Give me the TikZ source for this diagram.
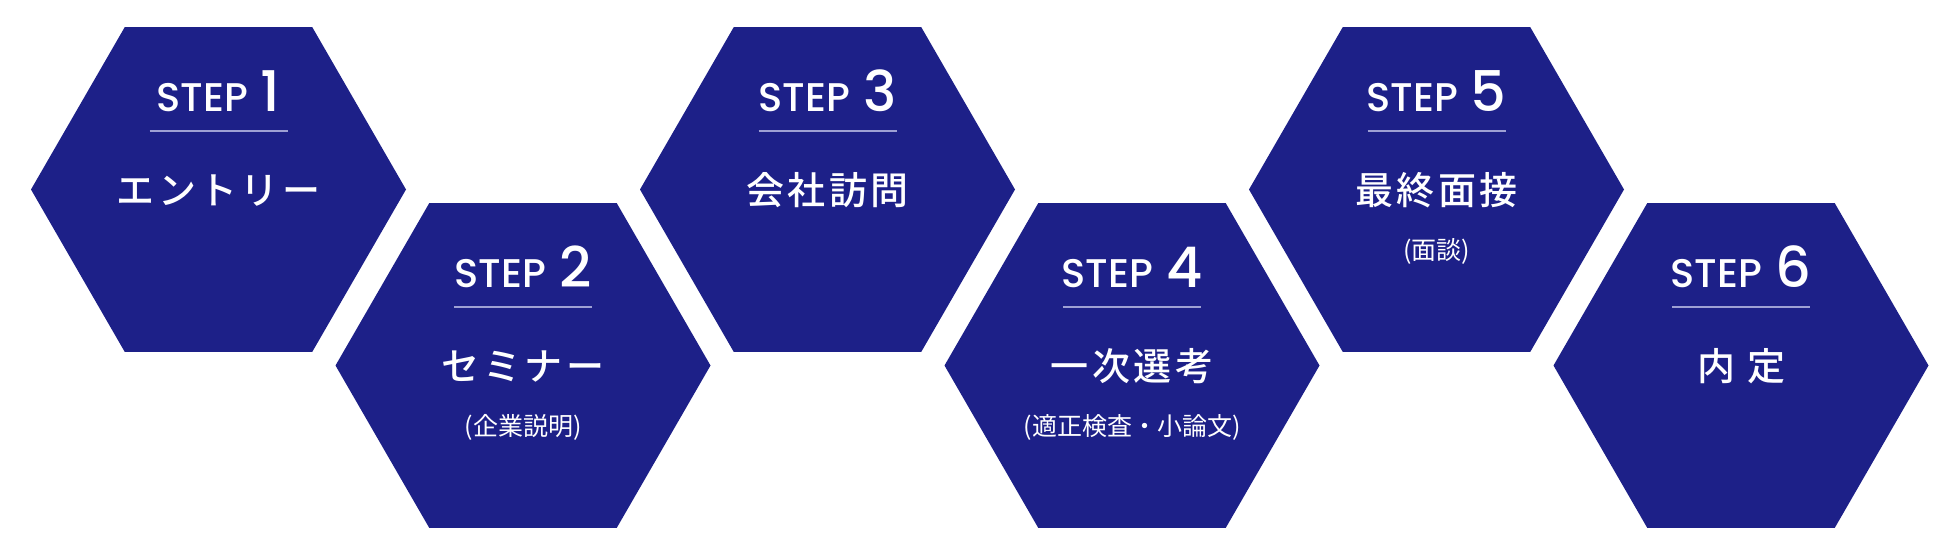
\documentclass[tikz,border=0pt]{standalone}
\usepackage{fontspec}
\usetikzlibrary{shapes.geometric}
\newfontfamily\jpfont{Noto Sans CJK JP Medium}[LetterSpace=9]
\newfontfamily\jpsubfont{Noto Sans CJK JP}
\newfontfamily\stepfont{Poppins Medium}
\definecolor{navy}{HTML}{1D2088}
\definecolor{rulecol}{HTML}{9EA0D4}
\tikzset{
  hexa/.style={regular polygon, regular polygon sides=6, minimum size=375pt, inner sep=0pt, outer sep=0pt, fill=navy},
  steplbl/.style={anchor=base, text=white, inner sep=0pt, font=\stepfont\fontsize{40}{40}\selectfont},
  ttllbl/.style={text=white, inner sep=0pt, font=\jpfont\fontsize{38}{40}\selectfont},
  sublbl/.style={text=white, inner sep=0pt, font=\jpsubfont\fontsize{25}{27}\selectfont},
  rule/.style={draw=rulecol, line width=1.2pt}
}
\newcommand{\stepnum}[1]{{\fontsize{56}{56}\selectfont #1}}
\begin{document}
\begin{tikzpicture}[x=1pt, y=-1pt]
\useasboundingbox (0,0) rectangle (1960,555);
\foreach \i/\cx/\cy/\ttl in {1/218.5/189.5/エントリー, 2/523/365.5/セミナー, 3/827.5/189.5/会社訪問, 4/1132/365.5/一次選考, 5/1436.5/189.5/最終面接, 6/1741/365.5/内 定} {
  \node[hexa] (hex\i) at (\cx,\cy) {};
  \node[steplbl] (step\i) at ([yshift=78pt]hex\i.center) {STEP\hspace{13pt}\stepnum{\i}};
  \draw[rule] ([shift={(-69pt,58.5pt)}]hex\i.center) -- ++(138,0);
  \node[ttllbl] (ttl\i) at ([yshift=-1pt]hex\i.center) {\ttl};
}
\foreach \i/\sub in {2/(企業説明), 4/(適正検査・小論文), 5/(面談)}
  \node[sublbl] (sub\i) at ([yshift=-62pt]hex\i.center) {\sub};
\end{tikzpicture}
\end{document}
